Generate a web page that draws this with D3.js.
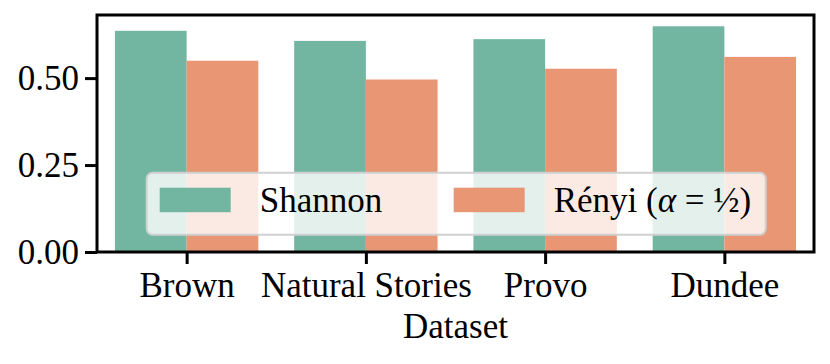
<!DOCTYPE html>
<html>
<head>
<meta charset="utf-8">
<script src="https://cdn.jsdelivr.net/npm/d3@7"></script>
<style>
  body { margin: 0; background: #fff; }
  text { font-family: "Liberation Serif", "Times New Roman", serif; fill: #000; }
</style>
</head>
<body>
<div id="chart"></div>
<script>
const datasets = ["Brown", "Natural Stories", "Provo", "Dundee"];
const seriesNames = ["Shannon", "Rényi"];
const shannonValues = [0.636, 0.607, 0.612, 0.649];
const renyiValues = [0.550, 0.496, 0.527, 0.561];
const yTicks = [0.00, 0.25, 0.50];
const seriesColors = ["#72b6a1", "#e99675"];

const width = 830, height = 364;
const margin = { top: 15, right: 16, bottom: 112, left: 97 };
const fontSize = 35;

const svg = d3.select("#chart")
    .append("svg")
    .attr("width", width)
    .attr("height", height);

const plotW = width - margin.left - margin.right;
const plotH = height - margin.top - margin.bottom;

const g = svg.append("g")
    .attr("transform", "translate(" + margin.left + "," + margin.top + ")");

// seaborn style: x from -0.5 to n-0.5, bars 0.8 wide split between the two series
const x = d3.scaleLinear()
    .domain([-0.5, datasets.length - 0.5])
    .range([0, plotW]);

const yMax = d3.max(shannonValues.concat(renyiValues)) * 1.05;
const y = d3.scaleLinear()
    .domain([0, yMax])
    .range([plotH, 0]);

const rows = [];
datasets.forEach((d, i) => {
    rows.push({ i: i, s: 0, v: shannonValues[i] });
    rows.push({ i: i, s: 1, v: renyiValues[i] });
});

g.append("g").selectAll("rect")
    .data(rows)
    .enter().append("rect")
    .attr("x", d => x(d.i - 0.4 + d.s * 0.4))
    .attr("width", x(0.4) - x(0))
    .attr("y", d => y(d.v))
    .attr("height", d => y(0) - y(d.v))
    .style("fill", d => seriesColors[d.s]);

// axes
const xAxis = g.append("g")
    .attr("transform", "translate(0," + plotH + ")")
    .call(d3.axisBottom(x).tickValues(d3.range(datasets.length)).tickFormat(i => datasets[i]).tickSize(12).tickPadding(8));

const yAxis = g.append("g")
    .call(d3.axisLeft(y).tickValues(yTicks).tickFormat(d3.format(".2f")).tickSize(12).tickPadding(6));

[xAxis, yAxis].forEach(a => {
    a.select(".domain").remove();
    a.selectAll("line").attr("stroke", "#000").attr("stroke-width", 3);
    a.selectAll("text").style("font-size", fontSize + "px").style("font-family", "Liberation Serif, serif");
});

// frame
g.append("rect")
    .attr("width", plotW)
    .attr("height", plotH)
    .attr("fill", "none")
    .attr("stroke", "#000")
    .attr("stroke-width", 3);

g.append("text")
    .attr("x", plotW / 2)
    .attr("y", plotH + 86)
    .attr("text-anchor", "middle")
    .style("font-size", fontSize + "px")
    .text("Dataset");

// legend
const legend = g.append("g")
    .attr("transform", "translate(" + (146.7 - margin.left) + "," + (172.7 - margin.top) + ")");

legend.append("rect")
    .attr("width", 619)
    .attr("height", 62)
    .attr("rx", 6)
    .attr("fill", "#fff")
    .attr("fill-opacity", 0.8)
    .attr("stroke", "#d0d0d0")
    .attr("stroke-width", 2);

const legendX = [13, 307];
seriesNames.forEach((name, k) => {
    legend.append("rect")
        .attr("x", legendX[k])
        .attr("y", 15)
        .attr("width", 71)
        .attr("height", 24.5)
        .style("fill", seriesColors[k]);
    const t = legend.append("text")
        .attr("x", legendX[k] + 100)
        .attr("y", 39)
        .style("font-size", fontSize + "px");
    if (k == 0) {
        t.text(name);
    } else {
        t.append("tspan").text(name + " (");
        t.append("tspan").style("font-style", "italic").text("α");
        t.append("tspan").text(" = ½)");
    }
});
</script>
</body>
</html>
